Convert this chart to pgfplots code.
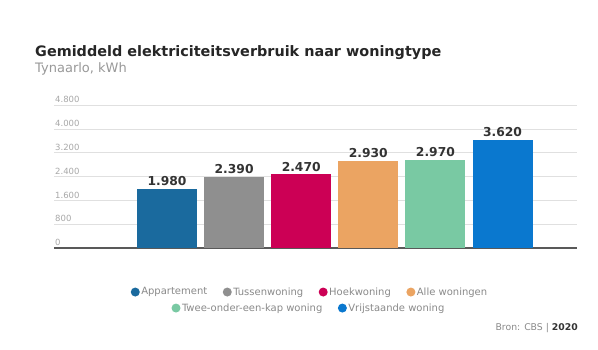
\documentclass[border=0pt]{standalone}
\usepackage{pgfplots}
\pgfplotsset{compat=1.18}
\usepackage{fontspec}
\setmainfont{DejaVu Sans}
\definecolor{cA}{HTML}{1A6A9E}
\definecolor{cB}{HTML}{8F8F8F}
\definecolor{cC}{HTML}{CC0055}
\definecolor{cD}{HTML}{EBA462}
\definecolor{cE}{HTML}{79C9A3}
\definecolor{cF}{HTML}{0A78CF}
\definecolor{txtgray}{HTML}{8A8A8A}
\definecolor{tickgray}{HTML}{A8A8A8}
\pgfplotsset{
  mylegend/.style={
    legend image code/.code={\fill[##1, draw=none] (4.5pt,0pt) circle (4.5pt);},
    legend style={draw=none, fill=none, anchor=center,
      font=\fontsize{10}{12}\selectfont, text=txtgray,
      nodes={inner sep=1.5pt},
      /tikz/every even column/.append style={column sep=14pt}},
  }
}
\begin{document}
\begin{tikzpicture}
\fill[white] (0pt,0pt) rectangle (598pt,350pt);
\node[anchor=base west, inner sep=0pt, font=\fontsize{14.4}{17}\selectfont\bfseries, text=black!85] at (35pt,293pt) {Gemiddeld elektriciteitsverbruik naar woningtype};
\node[anchor=base west, inner sep=0pt, font=\fontsize{13}{15}\selectfont, text=black!40] at (35pt,277pt) {Tynaarlo, kWh};
\begin{axis}[
  at={(54pt,102pt)}, anchor=south west, scale only axis,
  width=523pt, height=143pt,
  xmin=-1.684, xmax=6.11, ymin=0, ymax=4800,
  ytick={0,800,1600,2400,3200,4000,4800},
  xtick=\empty,
  ymajorgrids, grid style={draw=black!12, line width=0.6pt},
  axis x line*=bottom, axis y line*=left,
  x axis line style={-, draw=black!65, line width=1.2pt},
  y axis line style={draw=none},
  major tick length=0pt,
  /pgf/number format/.cd, 1000 sep={.}, assume math mode=true,
  /pgfplots/.cd,
  yticklabel style={anchor=south west, inner sep=1pt, yshift=1pt, font=\fontsize{8.5}{9}\selectfont, text=tickgray},
  ybar, bar width=60pt, bar shift=0pt,
  nodes near coords,
  nodes near coords style={font=\fontsize{12.3}{14}\selectfont\bfseries, text=black!80, inner sep=3pt},
  clip=false,
  mylegend,
  legend columns=4,
  legend style={at={(axis description cs:0.489,-0.308)}},
]
\addplot[fill=cA, draw=none] coordinates {(0,1980)};
\addlegendentry{Appartement}
\addplot[fill=cB, draw=none] coordinates {(1,2390)};
\addlegendentry{Tussenwoning}
\addplot[fill=cC, draw=none] coordinates {(2,2470)};
\addlegendentry{Hoekwoning}
\addplot[fill=cD, draw=none] coordinates {(3,2930)};
\addlegendentry{Alle woningen}
\addplot[fill=cE, draw=none, forget plot] coordinates {(4,2970)};
\addplot[fill=cF, draw=none, forget plot] coordinates {(5,3620)};
\end{axis}
\begin{axis}[
  at={(54pt,102pt)}, anchor=south west, scale only axis,
  width=523pt, height=143pt, hide axis,
  xmin=0, xmax=1, ymin=0, ymax=1,
  mylegend,
  legend columns=2,
  legend style={at={(axis description cs:0.487,-0.42)}},
]
\addlegendimage{fill=cE}
\addlegendentry{Twee-onder-een-kap woning}
\addlegendimage{fill=cF}
\addlegendentry{Vrijstaande woning}
\end{axis}
\node[anchor=base east, inner sep=0pt, font=\fontsize{9.3}{10}\selectfont, text=txtgray] at (578pt,19pt) {Bron: CBS | \textbf{\textcolor{black!80}{2020}}};
\end{tikzpicture}
\end{document}
